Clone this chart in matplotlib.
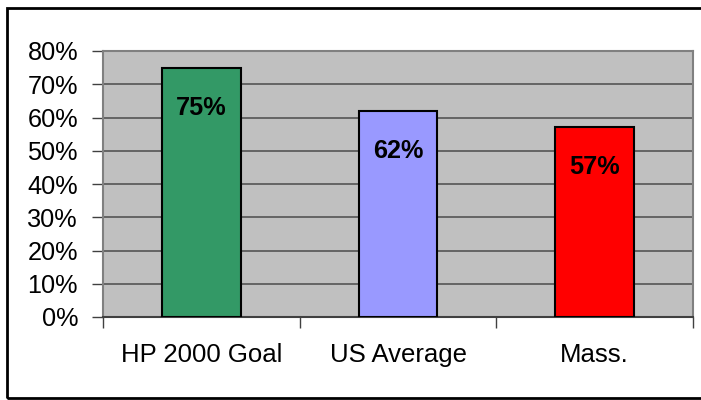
import matplotlib
matplotlib.use("Agg")
import matplotlib.pyplot as plt
from matplotlib.patches import Rectangle
from matplotlib.ticker import FixedLocator

categories = ["HP 2000 Goal", "US Average", "Mass."]
values = [0.75, 0.62, 0.57]
colors = ["#339966", "#9999FF", "#FF0000"]
yticks = [0, 0.1, 0.2, 0.3, 0.4, 0.5, 0.6, 0.7, 0.8]

plt.rcParams['font.family'] = ['Liberation Sans', 'DejaVu Sans']

fig = plt.figure(figsize=(7.01, 4), dpi=100)
# black frame round the chart
fig.patches.append(Rectangle((7 / 701, 2 / 400), 700 / 701, 390 / 400, transform=fig.transFigure,
                             fill=False, edgecolor="black", linewidth=2))
ax = fig.add_axes([103 / 701, 83 / 400, 590 / 701, 266 / 400])
ax.set_facecolor("#C0C0C0")

x = list(range(len(categories)))
ax.bar(x, values, width=0.4, color=colors, edgecolor="black", linewidth=1.5, zorder=3)
for i, v in enumerate(values):
    ax.text(i, v - 0.12, f"{int(round(v * 100))}%", ha="center", va="center",
            fontsize=18.2, fontweight="bold", zorder=4)

ax.set_xlim(-0.5, 2.5)
ax.set_ylim(0, 0.8)
ax.set_yticks(yticks)
ax.set_yticklabels([f"{int(round(t * 100))}%" for t in yticks])
ax.grid(axis="y", color="#555555", linewidth=1.2, zorder=1)
ax.set_xticks(x)
ax.set_xticklabels(categories)
ax.xaxis.set_minor_locator(FixedLocator([-0.5, 0.5, 1.5, 2.5]))
ax.tick_params(axis="x", which="major", length=0, pad=18.5, labelsize=18.5)
ax.tick_params(axis="x", which="minor", length=8, width=1, color="#404040")
ax.tick_params(axis="y", length=8, width=1, color="#404040", pad=10, labelsize=18.2)

for s in ["top", "right", "left"]:
    ax.spines[s].set_color("#808080")
    ax.spines[s].set_linewidth(1.5)
ax.spines["bottom"].set_color("#404040")
ax.spines["bottom"].set_linewidth(1.5)

plt.savefig("out.png", dpi=100)
